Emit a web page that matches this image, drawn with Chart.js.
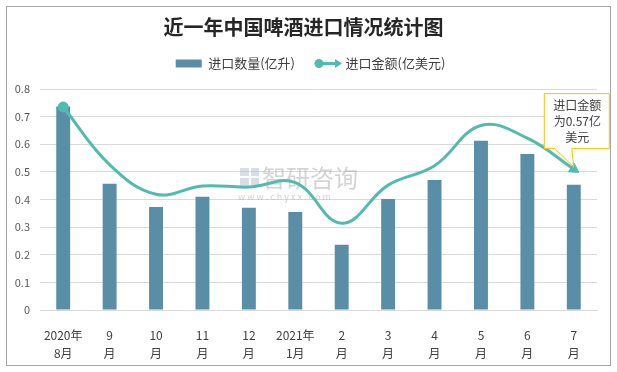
<!DOCTYPE html>
<html><head><meta charset="utf-8">
<script src="https://cdn.jsdelivr.net/npm/chart.js@4.4.1/dist/chart.umd.min.js"></script>
<style>html,body{margin:0;padding:0;background:#fff}#wrap{position:relative;width:617px;height:372px}</style>
</head><body><div id="wrap"><canvas id="c" width="617" height="372"></canvas></div>
<script>
const title = "近一年中国啤酒进口情况统计图";
const categories = [["2020年","8月"],["9","月"],["10","月"],["11","月"],["12","月"],["2021年","1月"],["2","月"],["3","月"],["4","月"],["5","月"],["6","月"],["7","月"]];
const seriesNames = ["进口数量(亿升)","进口金额(亿美元)"];
const volume = [0.737,0.457,0.373,0.41,0.37,0.355,0.236,0.402,0.471,0.613,0.565,0.453];
const amount = [0.735,0.526,0.419,0.449,0.445,0.461,0.314,0.452,0.522,0.668,0.622,0.51];
const yTicks = [0,0.1,0.2,0.3,0.4,0.5,0.6,0.7,0.8];
const calloutLines = ["进口金额","为0.57亿","美元"];
const watermark = ["智研咨询","w w w . c h y x x . c o m"];

const FONT = "'Noto Sans CJK SC','Noto Sans',sans-serif";
const BAR = "#5a8ea7";
const LINE = "#52bbb0";
const TXT = "#404040";
const n = categories.length;

const frame = {
  id:'frame',
  beforeUpdate(chart){
    const lg = chart.legend;
    if (lg && !lg._patched) {
      const f = lg.fit;
      lg.fit = function(){ f.call(this); this.height += 9; };
      lg._patched = true;
    }
  },
  afterLayout(chart){
    const lg = chart.legend;
    if (lg) { lg.left += 7; lg.right += 7; }
  },
  beforeDraw(chart){
    const c = chart.ctx;
    c.save();
    c.fillStyle='#fff'; c.fillRect(0,0,chart.width,chart.height);
    c.strokeStyle='#a6a6a6'; c.lineWidth=1;
    c.strokeRect(6.5,6.5,chart.width-13,chart.height-13);
    c.restore();
  },
  beforeDatasetsDraw(chart){
    const c = chart.ctx;
    c.save();
    c.fillStyle='rgba(170,170,170,0.5)';
    c.font="24px "+FONT;
    c.textBaseline='middle';
    c.fillText(watermark[0],262,178);
    c.font="9px "+FONT;
    c.fillText(watermark[1],238,197);
    c.fillStyle='rgba(175,190,210,0.5)';
    c.fillRect(240,168,9,8); c.fillRect(251,168,8,8);
    c.fillRect(240,178,9,9); c.fillRect(251,178,8,9);
    c.restore();
  },
  afterDraw(chart){
    const c = chart.ctx;
    const hb = chart.legend && chart.legend.legendHitBoxes;
    if (hb && hb[1]) {
      const b = hb[1];
      const y = b.top + b.height/2;
      const x0 = b.left, x1 = b.left + 29;
      c.save();
      c.strokeStyle=LINE; c.fillStyle=LINE; c.lineWidth=3;
      c.beginPath(); c.moveTo(x0+4,y); c.lineTo(x1-5,y); c.stroke();
      c.beginPath(); c.arc(x0+6,y,4.5,0,Math.PI*2); c.fill();
      c.beginPath(); c.moveTo(x1,y); c.lineTo(x1-7,y-4.5); c.lineTo(x1-7,y+4.5); c.closePath(); c.fill();
      c.restore();
    }
    const meta = chart.getDatasetMeta(1);
    const p = meta.data[n-1];
    if (p) {
      const tx = p.x, ty = p.y;
      const L = tx-30, R = tx+35, T = ty-76, B = ty-21;
      c.save();
      c.fillStyle='#fff'; c.strokeStyle='#ffc000'; c.lineWidth=1;
      c.beginPath();
      c.moveTo(L+0.5,T+0.5); c.lineTo(R+0.5,T+0.5); c.lineTo(R+0.5,B+0.5);
      c.lineTo(tx-2,B+0.5); c.lineTo(tx,ty-2); c.lineTo(tx-19,B+0.5);
      c.lineTo(L+0.5,B+0.5); c.closePath();
      c.fill(); c.stroke();
      c.fillStyle=TXT; c.font="12px "+FONT; c.textAlign='center'; c.textBaseline='middle';
      const cx=(L+R)/2+1;
      calloutLines.forEach((s,i)=>c.fillText(s,cx,T+12+i*16));
      c.restore();
    }
  }
};

const radii = amount.map((v,i)=> i===0?5:(i===n-1?6:0));
const styles = amount.map((v,i)=> i===n-1?'triangle':'circle');
const rots = amount.map((v,i)=> i===n-1?123:0);

new Chart(document.getElementById('c'),{
  data:{
    labels:categories,
    datasets:[
      {type:'bar',label:seriesNames[0],data:volume,backgroundColor:BAR,barPercentage:0.3,categoryPercentage:1,order:2},
      {type:'line',label:seriesNames[1],data:amount,borderColor:LINE,backgroundColor:LINE,borderWidth:3,tension:0.4,
       pointRadius:radii,pointStyle:styles,pointRotation:rots,pointBackgroundColor:LINE,pointBorderColor:LINE,pointBorderWidth:1,order:1}
    ]
  },
  options:{
    responsive:false,animation:false,devicePixelRatio:1,
    layout:{padding:{left:10,right:20,top:0,bottom:10}},
    plugins:{
      title:{display:true,text:title,color:'#262626',font:{size:20,weight:'bold',family:FONT},padding:{top:15,bottom:0}},
      legend:{display:true,position:'top',labels:{boxWidth:26,boxHeight:8,padding:18,color:TXT,font:{size:13,family:FONT},
        generateLabels:()=>[
          {text:seriesNames[0],fillStyle:BAR,strokeStyle:BAR,lineWidth:0,datasetIndex:0,hidden:false,fontColor:TXT},
          {text:seriesNames[1],fillStyle:'rgba(0,0,0,0)',strokeStyle:'rgba(0,0,0,0)',lineWidth:0,datasetIndex:1,hidden:false,fontColor:TXT}
        ]}},
      tooltip:{enabled:false}
    },
    scales:{
      x:{offset:true,grid:{display:false},border:{display:true,color:'#d9d9d9'},
         ticks:{color:TXT,font:{size:12,family:FONT,lineHeight:1.5},padding:8,maxRotation:0,autoSkip:false},
         afterFit:s=>{s.height=52;}},
      y:{min:0,max:0.8,border:{display:false},grid:{color:'#d9d9d9',drawTicks:false},
         afterBuildTicks:s=>{s.ticks=yTicks.map(v=>({value:v}));},
         ticks:{color:'#595959',font:{size:11,family:FONT},padding:10,callback:v=>String(Math.round(v*10)/10)},
         afterFit:s=>{s.width=30;}}
    }
  },
  plugins:[frame]
});
</script></body></html>
